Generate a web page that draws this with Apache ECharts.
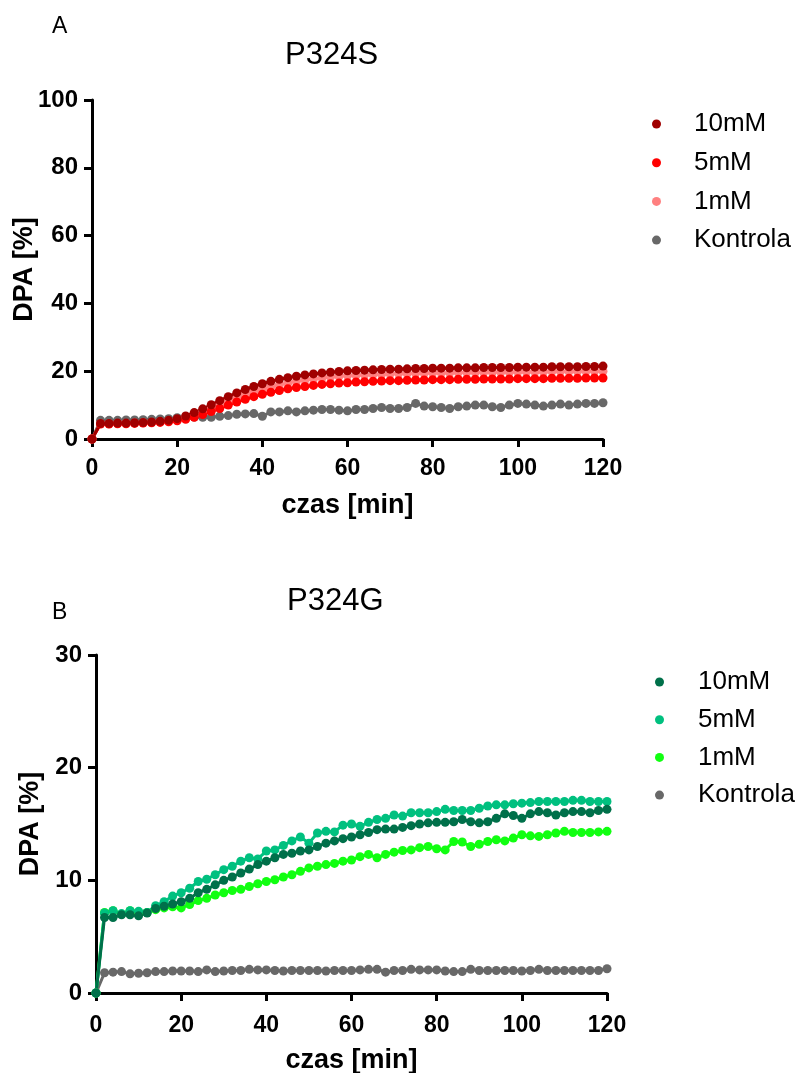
<!DOCTYPE html>
<html>
<head>
<meta charset="utf-8">
<script src="https://cdn.jsdelivr.net/npm/echarts@6/dist/echarts.min.js"></script>
<style>
  html, body { margin: 0; padding: 0; background: #ffffff; }
  #chart { width: 801px; height: 1073px; }
</style>
</head>
<body>
<div id="chart"></div>
<script>
// Sampling times (min)
const minutes = [0, 2, 4, 6, 8, 10, 12, 14, 16, 18, 20, 22, 24, 26, 28, 30, 32, 34, 36, 38, 40,
  42, 44, 46, 48, 50, 52, 54, 56, 58, 60, 62, 64, 66, 68, 70, 72, 74, 76, 78, 80,
  82, 84, 86, 88, 90, 92, 94, 96, 98, 100, 102, 104, 106, 108, 110, 112, 114, 116, 118, 120];

const seriesNames = ['10mM', '5mM', '1mM', 'Kontrola'];
const xTicks = [0, 20, 40, 60, 80, 100, 120];

// Panel A: P324S, DPA release [%]
const s_10mM = [0, 4.6, 4.6, 4.7, 4.7, 4.8, 4.9, 5.0, 5.2, 5.5, 6.0, 6.8, 7.8, 8.9, 10.1, 11.3, 12.5, 13.6, 14.6, 15.5, 16.3,
  17.0, 17.6, 18.1, 18.5, 18.9, 19.2, 19.5, 19.7, 19.9, 20.1, 20.2, 20.3, 20.4, 20.5, 20.6, 20.6, 20.7, 20.8, 20.8, 20.9,
  20.9, 20.9, 21.0, 21.0, 21.0, 21.1, 21.1, 21.1, 21.1, 21.2, 21.2, 21.2, 21.2, 21.3, 21.3, 21.3, 21.3, 21.4, 21.4, 21.5];
const s_5mM = [0, 4.4, 4.4, 4.5, 4.5, 4.6, 4.7, 4.8, 4.9, 5.1, 5.4, 5.8, 6.4, 7.2, 8.1, 9.0, 10.0, 10.9, 11.7, 12.5, 13.2,
  13.8, 14.3, 14.8, 15.2, 15.5, 15.8, 16.1, 16.3, 16.5, 16.6, 16.8, 16.9, 17.0, 17.1, 17.2, 17.2, 17.3, 17.4, 17.4, 17.5,
  17.5, 17.5, 17.6, 17.6, 17.6, 17.7, 17.7, 17.7, 17.7, 17.8, 17.8, 17.8, 17.8, 17.9, 17.9, 17.9, 17.9, 18.0, 18.0, 18.0];
const s_1mM = [0, 4.5, 4.5, 4.6, 4.6, 4.7, 4.8, 4.9, 5.1, 5.4, 5.8, 6.4, 7.1, 8.0, 9.0, 10.0, 11.0, 12.0, 13.0, 13.9, 14.7,
  15.4, 16.0, 16.5, 17.0, 17.4, 17.7, 18.0, 18.3, 18.5, 18.7, 18.8, 18.9, 19.0, 19.1, 19.2, 19.3, 19.3, 19.4, 19.4, 19.5,
  19.5, 19.5, 19.6, 19.6, 19.6, 19.7, 19.7, 19.7, 19.7, 19.8, 19.8, 19.8, 19.8, 19.9, 19.9, 19.9, 19.9, 20.0, 20.0, 20.0];
const s_ctrl = [0, 5.5, 5.5, 5.5, 5.6, 5.6, 5.7, 5.8, 5.9, 6.0, 6.3, 6.4, 6.5, 6.4, 6.4, 6.7, 6.9, 7.3, 7.4, 7.5, 6.7,
  8.0, 8.0, 8.3, 8.0, 8.3, 8.5, 8.7, 8.7, 8.5, 8.3, 8.7, 8.7, 9.0, 9.3, 9.0, 9.0, 9.3, 10.5, 9.7, 9.5,
  9.3, 9.0, 9.5, 9.7, 10.0, 10.0, 9.5, 9.3, 10.0, 10.5, 10.3, 10.0, 9.7, 10.0, 10.3, 10.0, 10.3, 10.5, 10.5, 10.7];

// Panel B: P324G, DPA release [%]
const g_10mM = [0, 6.7, 6.7, 6.95, 6.95, 6.85, 7.1, 7.5, 7.7, 7.9, 8.1, 8.4, 8.9, 9.2, 9.6, 10.0, 10.3, 10.65, 11.0, 11.4, 11.7,
  12.0, 12.3, 12.4, 12.6, 12.7, 13.0, 13.3, 13.5, 13.7, 13.85, 14.05, 14.25, 14.5, 14.55, 14.55, 14.7, 14.85, 15.0, 15.1, 15.15,
  15.15, 15.2, 15.4, 15.2, 15.1, 15.2, 15.5, 15.9, 15.75, 15.5, 15.9, 16.1, 16.0, 15.8, 16.0, 16.1, 16.1, 16.0, 16.2, 16.3];
const g_5mM = [0, 7.1, 7.3, 7.05, 7.3, 7.25, 7.15, 7.75, 8.1, 8.6, 8.9, 9.3, 9.9, 10.1, 10.5, 10.95, 11.25, 11.7, 12.0, 11.9, 12.6,
  12.7, 13.1, 13.5, 13.85, 13.3, 14.2, 14.35, 14.3, 14.9, 15.0, 14.8, 15.15, 15.4, 15.5, 15.8, 15.7, 16.0, 16.0, 16.0, 16.1,
  16.3, 16.2, 16.2, 16.2, 16.4, 16.6, 16.7, 16.7, 16.8, 16.85, 16.9, 17.0, 17.0, 17.0, 17.0, 17.1, 17.1, 17.0, 17.0, 17.0];
const g_1mM = [0, 7.15, 7.3, 7.0, 7.3, 7.15, 7.15, 7.4, 7.55, 7.65, 7.55, 7.85, 8.2, 8.4, 8.7, 8.9, 9.1, 9.2, 9.45, 9.7, 9.9,
  10.05, 10.3, 10.5, 10.8, 11.1, 11.25, 11.4, 11.5, 11.7, 11.8, 12.1, 12.3, 12.0, 12.3, 12.5, 12.65, 12.7, 12.9, 13.0, 12.8,
  12.7, 13.45, 13.4, 13.0, 13.2, 13.45, 13.6, 13.5, 13.75, 14.05, 13.95, 13.9, 14.05, 14.2, 14.35, 14.25, 14.25, 14.25, 14.3, 14.35];
const g_ctrl = [0, 1.8, 1.85, 1.9, 1.7, 1.75, 1.8, 1.9, 1.9, 1.95, 1.95, 1.95, 1.9, 2.05, 1.9, 1.95, 2.0, 2.0, 2.1, 2.05, 2.05,
  2.0, 1.95, 2.0, 2.0, 2.0, 2.0, 1.95, 2.0, 2.0, 2.0, 2.05, 2.1, 2.1, 1.85, 2.0, 2.0, 2.1, 2.05, 2.05, 2.05,
  1.95, 1.9, 1.9, 2.1, 2.0, 2.0, 2.0, 2.0, 2.0, 1.95, 2.0, 2.1, 2.0, 2.0, 2.0, 2.0, 2.0, 2.0, 2.0, 2.15];

const FONT = '"Liberation Sans", Arial, Helvetica, sans-serif';
const redColors = { '10mM': '#a00000', '5mM': '#ff0000', '1mM': '#ff8080', 'Kontrola': '#686868' };
const greenColors = { '10mM': '#00704a', '5mM': '#00c07f', '1mM': '#11ff11', 'Kontrola': '#686868' };

function pairs(vals) {
  return minutes.map((t, i) => [t, vals[i]]);
}

function lineSeries(name, vals, color, idx) {
  return {
    name: name,
    type: 'line',
    xAxisIndex: idx,
    yAxisIndex: idx,
    data: pairs(vals),
    symbol: 'circle',
    symbolSize: 9,
    showAllSymbol: true,
    clip: false,
    itemStyle: { color: color },
    lineStyle: { color: color, width: 3 },
    emphasis: { disabled: true }
  };
}

function xAxisOf(idx, nameGap, labelMargin) {
  return {
    gridIndex: idx,
    type: 'value',
    min: 0, max: 120, interval: 20,
    name: 'czas [min]',
    nameLocation: 'middle',
    nameGap: nameGap,
    nameMoveOverlap: false,
    nameTextStyle: { color: '#000', fontSize: 27, fontWeight: 'bold', fontFamily: FONT },
    axisLine: { lineStyle: { color: '#000', width: 3 } },
    axisTick: { length: 8, lineStyle: { color: '#000', width: 3 } },
    axisLabel: {
      color: '#000', fontSize: 23, fontWeight: 'bold', fontFamily: FONT, margin: labelMargin,
      formatter: v => (xTicks.indexOf(v) >= 0 ? String(v) : '')
    },
    splitLine: { show: false }
  };
}

function yAxisOf(idx, max, interval, nameGap) {
  return {
    gridIndex: idx,
    type: 'value',
    min: 0, max: max, interval: interval,
    name: 'DPA [%]',
    nameLocation: 'middle',
    nameGap: nameGap,
    nameMoveOverlap: false,
    nameTextStyle: { color: '#000', fontSize: 27, fontWeight: 'bold', fontFamily: FONT },
    axisLine: { show: true, lineStyle: { color: '#000', width: 3 } },
    axisTick: { show: true, length: 8, lineStyle: { color: '#000', width: 3 } },
    axisLabel: { color: '#000', fontSize: 24, fontWeight: 'bold', fontFamily: FONT, margin: 14 },
    splitLine: { show: false }
  };
}

function legendOf(left, top, gap, pad, colors) {
  return {
    orient: 'vertical',
    left: left,
    top: top,
    icon: 'circle',
    itemWidth: 9,
    itemHeight: 9,
    itemGap: gap,
    padding: 0,
    selectedMode: false,
    textStyle: { color: '#000', fontSize: 26, fontFamily: FONT, lineHeight: 26, padding: [0, 0, 0, pad] },
    data: seriesNames.map(n => ({ name: n, itemStyle: { color: colors[n] } }))
  };
}

const chart = echarts.init(document.getElementById('chart'), null, { renderer: 'canvas' });

chart.setOption({
  backgroundColor: '#ffffff',
  animation: false,
  title: [
    { text: 'A', left: 52, top: 15, padding: 0, textStyle: { fontSize: 23, fontWeight: 'normal', color: '#000', fontFamily: FONT } },
    { text: 'P324S', left: 285, top: 40, padding: 0, textStyle: { fontSize: 31, fontWeight: 'normal', color: '#000', fontFamily: FONT } },
    { text: 'B', left: 52, top: 601, padding: 0, textStyle: { fontSize: 23, fontWeight: 'normal', color: '#000', fontFamily: FONT } },
    { text: 'P324G', left: 287, top: 586, padding: 0, textStyle: { fontSize: 31, fontWeight: 'normal', color: '#000', fontFamily: FONT } }
  ],
  legend: [
    legendOf(652, 111, 12.7, 28, redColors),
    legendOf(655, 669, 11.7, 29, greenColors)
  ],
  grid: [
    { left: 92, top: 100, width: 511, height: 339, outerBoundsMode: 'none', containLabel: false },
    { left: 96, top: 655, width: 511, height: 338, outerBoundsMode: 'none', containLabel: false }
  ],
  xAxis: [xAxisOf(0, 53, 18), xAxisOf(1, 54, 21)],
  yAxis: [yAxisOf(0, 100, 20, 54), yAxisOf(1, 30, 10, 52)],
  series: [
    lineSeries('Kontrola', s_ctrl, redColors['Kontrola'], 0),
    lineSeries('1mM', s_1mM, redColors['1mM'], 0),
    lineSeries('5mM', s_5mM, redColors['5mM'], 0),
    lineSeries('10mM', s_10mM, redColors['10mM'], 0),
    lineSeries('Kontrola', g_ctrl, greenColors['Kontrola'], 1),
    lineSeries('1mM', g_1mM, greenColors['1mM'], 1),
    lineSeries('5mM', g_5mM, greenColors['5mM'], 1),
    lineSeries('10mM', g_10mM, greenColors['10mM'], 1)
  ]
});
</script>
</body>
</html>
